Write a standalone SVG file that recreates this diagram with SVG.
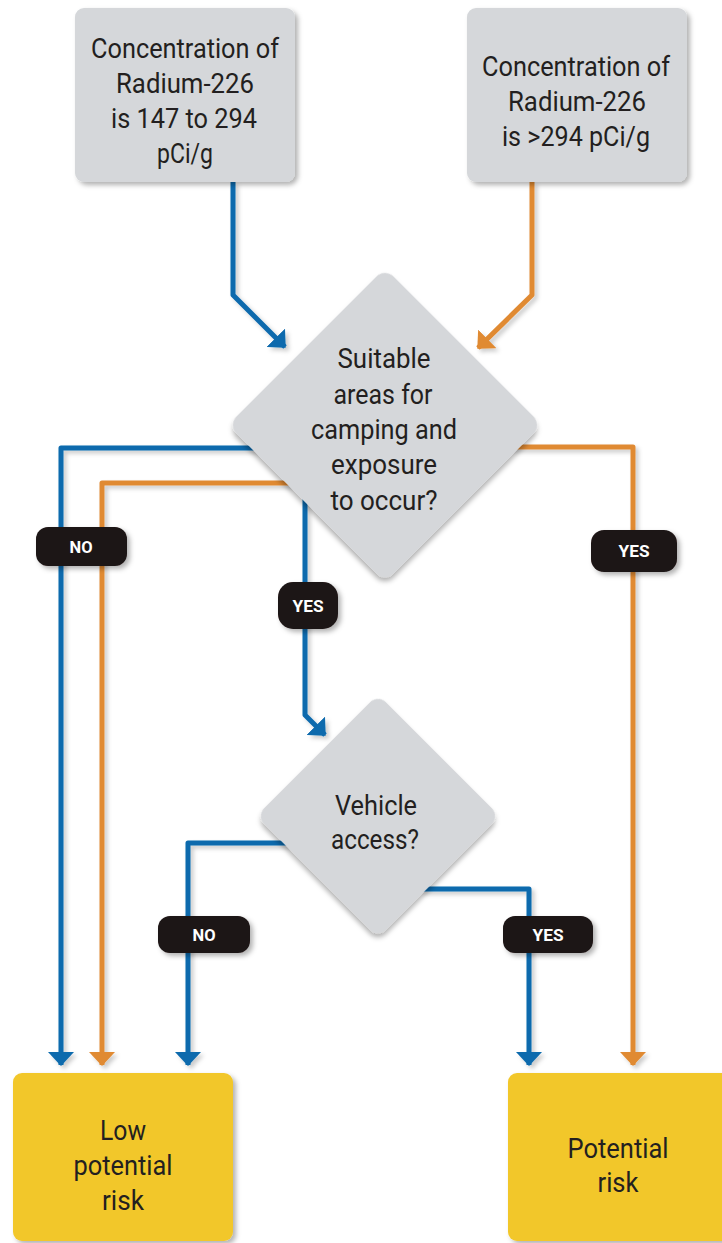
<svg xmlns="http://www.w3.org/2000/svg" width="722" height="1243" viewBox="0 0 722 1243">
<style>
.node-text{font-family:Roboto,"Liberation Sans",sans-serif;font-size:27px;fill:#231f20;text-anchor:middle}
.lbl-text{font-family:Roboto,"Liberation Sans",sans-serif;font-size:17px;font-weight:bold;fill:#ffffff;text-anchor:middle}
.box{fill:#d5d7da}
.risk{fill:#f2c72b}
.lbl{fill:#1e1414}
.blue{fill:none;stroke:#0b6aad;stroke-width:5;stroke-linejoin:round}
.orange{fill:none;stroke:#e08a33;stroke-width:5;stroke-linejoin:round}
</style>
<defs>
<filter id="sh" x="-10%" y="-10%" width="130%" height="130%">
<feDropShadow dx="3" dy="3" stdDeviation="2.5" flood-color="#000" flood-opacity="0.3"/>
</filter>
<filter id="lsh" x="-20%" y="-5%" width="140%" height="110%">
<feDropShadow dx="3" dy="3" stdDeviation="2" flood-color="#000" flood-opacity="0.2"/>
</filter>
<marker id="ab" viewBox="0 0 14 26" refX="13" refY="13" markerWidth="14" markerHeight="26" markerUnits="userSpaceOnUse" orient="auto">
<path d="M0,0 L14,13 L0,26 z" fill="#0b6aad"/>
</marker>
<marker id="ao" viewBox="0 0 14 26" refX="13" refY="13" markerWidth="14" markerHeight="26" markerUnits="userSpaceOnUse" orient="auto">
<path d="M0,0 L14,13 L0,26 z" fill="#e08a33"/>
</marker>
</defs>
<rect width="722" height="1243" fill="#ffffff"/>

<g id="connectors" filter="url(#lsh)">
<path class="blue" d="M233,182 V295 L285,347" marker-end="url(#ab)"/>
<path class="orange" d="M532,182 V295 L478,348" marker-end="url(#ao)"/>
<path class="blue" d="M262,448 H61 V1065" marker-end="url(#ab)"/>
<path class="orange" d="M292,483 H102 V1065" marker-end="url(#ao)"/>
<path class="orange" d="M510,447 H633 V1065" marker-end="url(#ao)"/>
<path class="blue" d="M305,495 V715 L325,735" marker-end="url(#ab)"/>
<path class="blue" d="M290,843 H188 V1065" marker-end="url(#ab)"/>
<path class="blue" d="M420,889 H529 V1065" marker-end="url(#ab)"/>
</g>

<g id="labels">
<rect class="lbl" x="36" y="527" width="91" height="39" rx="12" filter="url(#sh)"/>
<text class="lbl-text" x="81" y="553" textLength="23" lengthAdjust="spacingAndGlyphs">NO</text>
<rect class="lbl" x="278" y="582" width="60" height="47" rx="15" filter="url(#sh)"/>
<text class="lbl-text" x="308" y="612" textLength="31" lengthAdjust="spacingAndGlyphs">YES</text>
<rect class="lbl" x="591" y="530" width="86" height="42" rx="13" filter="url(#sh)"/>
<text class="lbl-text" x="634" y="557" textLength="31" lengthAdjust="spacingAndGlyphs">YES</text>
<rect class="lbl" x="158" y="916" width="92" height="37" rx="12" filter="url(#sh)"/>
<text class="lbl-text" x="204" y="941" textLength="23" lengthAdjust="spacingAndGlyphs">NO</text>
<rect class="lbl" x="503" y="916" width="90" height="37" rx="12" filter="url(#sh)"/>
<text class="lbl-text" x="548" y="941" textLength="31" lengthAdjust="spacingAndGlyphs">YES</text>
</g>

<g id="box-ra147">
<rect class="box" x="75" y="8" width="220" height="174" rx="9" filter="url(#sh)"/>
<text class="node-text" x="185" y="58" textLength="188" lengthAdjust="spacingAndGlyphs">Concentration of</text>
<text class="node-text" x="185" y="93" textLength="138" lengthAdjust="spacingAndGlyphs">Radium-226</text>
<text class="node-text" x="184" y="128" textLength="146" lengthAdjust="spacingAndGlyphs">is 147 to 294</text>
<text class="node-text" x="185" y="163" textLength="56" lengthAdjust="spacingAndGlyphs">pCi/g</text>
</g>

<g id="box-ra294">
<rect class="box" x="467" y="8" width="220" height="174" rx="9" filter="url(#sh)"/>
<text class="node-text" x="576" y="76" textLength="188" lengthAdjust="spacingAndGlyphs">Concentration of</text>
<text class="node-text" x="577" y="111" textLength="138" lengthAdjust="spacingAndGlyphs">Radium-226</text>
<text class="node-text" x="576" y="146" textLength="148" lengthAdjust="spacingAndGlyphs">is &gt;294 pCi/g</text>
</g>

<g id="diamond-camping">
<rect class="box" x="274" y="314" width="222" height="222" rx="12" transform="rotate(45 385 425)" filter="url(#sh)"/>
<text class="node-text" x="384" y="368" textLength="93" lengthAdjust="spacingAndGlyphs">Suitable</text>
<text class="node-text" x="383" y="404" textLength="99" lengthAdjust="spacingAndGlyphs">areas for</text>
<text class="node-text" x="384" y="439" textLength="146" lengthAdjust="spacingAndGlyphs">camping and</text>
<text class="node-text" x="384" y="474" textLength="106" lengthAdjust="spacingAndGlyphs">exposure</text>
<text class="node-text" x="384" y="510" textLength="107" lengthAdjust="spacingAndGlyphs">to occur?</text>
</g>

<g id="diamond-vehicle">
<rect class="box" x="292" y="730" width="172" height="172" rx="11" transform="rotate(45 378 816)" filter="url(#sh)"/>
<text class="node-text" x="376" y="815" textLength="82" lengthAdjust="spacingAndGlyphs">Vehicle</text>
<text class="node-text" x="375" y="849" textLength="88" lengthAdjust="spacingAndGlyphs">access?</text>
</g>

<g id="low-risk">
<rect class="risk" x="13" y="1073" width="220" height="168" rx="9" filter="url(#sh)"/>
<text class="node-text" x="123" y="1140" textLength="46" lengthAdjust="spacingAndGlyphs">Low</text>
<text class="node-text" x="123" y="1175" textLength="99" lengthAdjust="spacingAndGlyphs">potential</text>
<text class="node-text" x="123" y="1210" textLength="42" lengthAdjust="spacingAndGlyphs">risk</text>
</g>

<g id="potential-risk">
<rect class="risk" x="508" y="1073" width="225" height="168" rx="9" filter="url(#sh)"/>
<text class="node-text" x="618" y="1158" textLength="101" lengthAdjust="spacingAndGlyphs">Potential</text>
<text class="node-text" x="618" y="1192" textLength="41" lengthAdjust="spacingAndGlyphs">risk</text>
</g>
</svg>
